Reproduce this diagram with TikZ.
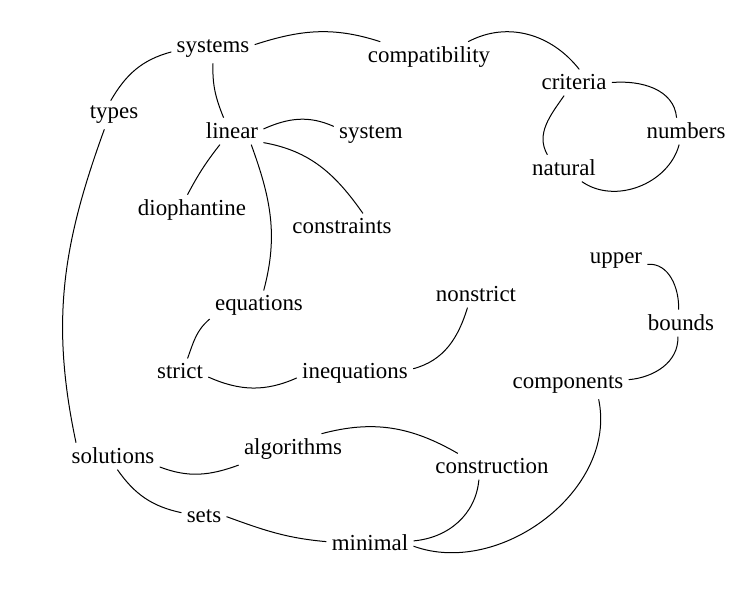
\documentclass[tikz,border=0pt]{standalone}
\usepackage{fontspec}
\setmainfont{Liberation Serif}
\tikzset{
  palavra/.style={font=\fontsize{11.45}{13.7}\selectfont, inner sep=2.5pt, anchor=base},
  elo/.style={line width=0.5pt, black},
}
\begin{document}
\begin{tikzpicture}[x=0.5pt, y=0.5pt]
    \useasboundingbox (0,0) rectangle (756,600);

    % --- PALAVRAS (nós posicionados pela linha de base) ---
    \node[palavra] (systems) at (213,547) {systems};
    \node[palavra] (compatibility) at (429,537) {compatibility};
    \node[palavra] (criteria) at (574,510) {criteria};
    \node[palavra] (types) at (114,481) {types};
    \node[palavra] (linear) at (232,461) {linear};
    \node[palavra] (system) at (371,461) {system};
    \node[palavra] (numbers) at (686,461) {numbers};
    \node[palavra] (natural) at (564,424) {natural};
    \node[palavra] (diophantine) at (192,384) {diophantine};
    \node[palavra] (constraints) at (342,366) {constraints};
    \node[palavra] (upper) at (616,336) {upper};
    \node[palavra] (nonstrict) at (476,298) {nonstrict};
    \node[palavra] (equations) at (259,289) {equations};
    \node[palavra] (bounds) at (681,269) {bounds};
    \node[palavra] (strict) at (180,221) {strict};
    \node[palavra] (inequations) at (355,221) {inequations};
    \node[palavra] (components) at (568,211) {components};
    \node[palavra] (solutions) at (113,136) {solutions};
    \node[palavra] (algorithms) at (293,145) {algorithms};
    \node[palavra] (construction) at (492,126) {construction};
    \node[palavra] (sets) at (204,77) {sets};
    \node[palavra] (minimal) at (370,49) {minimal};

    % --- LIGAÇÕES CURVAS ---
    % bloco superior
    \draw[elo] (systems.184) to[out=195,in=60] (types.103);
    \draw[elo] (types.236) to[out=250,in=102] (solutions.160);
    \draw[elo] (systems.south) to[out=268,in=112] (linear.122);
    \draw[elo] (systems.6) to[out=18,in=162] (compatibility.162);
    \draw[elo] (compatibility.22) to[out=28,in=128] (criteria.68);
    \draw[elo] (criteria.east) to[out=5,in=95] (numbers.125);
    \draw[elo] (criteria.233) to[out=235,in=120] (natural.141);
    \draw[elo] (natural.323) to[out=325,in=255] (numbers.243);
    \draw[elo] (linear.4) to[out=24,in=156] (system.167);
    \draw[elo] (linear.228) to[out=232,in=62] (diophantine.106);
    \draw[elo] (linear.325) to[out=290,in=75] (equations.73);
    \draw[elo] (linear.340) to[out=350,in=125] (constraints.32);

    % bloco do meio
    \draw[elo] (equations.195) to[out=220,in=70] (strict.60);
    \draw[elo] (strict.349) to[out=336,in=204] (inequations.184);
    \draw[elo] (inequations.5) to[out=15,in=253] (nonstrict.237);
    \draw[elo] (upper.354) to[out=5,in=88] (bounds.100);
    \draw[elo] (bounds.257) to[out=272,in=5] (components.5);

    % bloco inferior
    \draw[elo] (components.335) to[out=282,in=340] (minimal.356);
    \draw[elo] (construction.225) to[out=265,in=5] (minimal.3);
    \draw[elo] (algorithms.29) to[out=15,in=150] (construction.159);
    \draw[elo] (solutions.347) to[out=339,in=200] (algorithms.196);
    \draw[elo] (solutions.288) to[out=305,in=168] (sets.170);
    \draw[elo] (sets.0) to[out=340,in=175] (minimal.178);

\end{tikzpicture}
\end{document}
